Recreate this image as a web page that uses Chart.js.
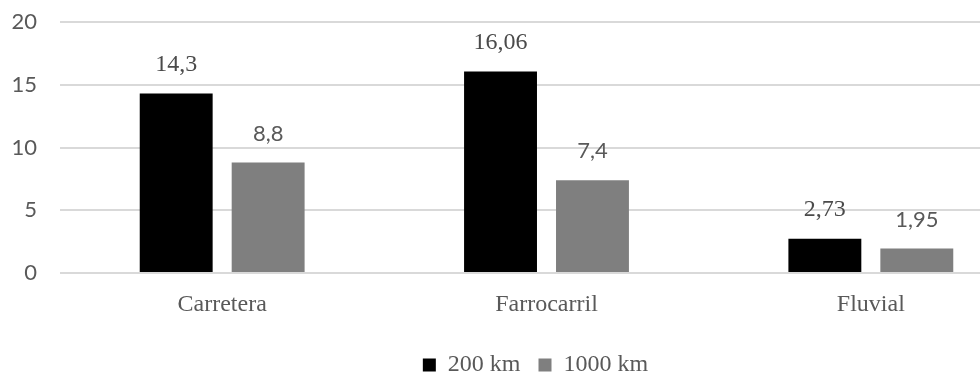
<!DOCTYPE html>
<html>
<head>
<meta charset="utf-8">
<script src="https://cdn.jsdelivr.net/npm/chart.js@4/dist/chart.umd.min.js"></script>
<style>
  html, body { margin: 0; padding: 0; background: #fff; overflow: hidden; }
  #wrap { width: 1070px; height: 374px; }
</style>
</head>
<body>
<div id="wrap"><canvas id="c" width="1070" height="374"></canvas></div>
<script>
// Modes of transport and the two distance series
const categories = ['Carretera', 'Farrocarril', 'Fluvial'];
const seriesNames = ['200 km', '1000 km'];
const values200 = [14.3, 16.06, 2.73];
const values1000 = [8.8, 7.4, 1.95];
const yTicks = [0, 5, 10, 15, 20];

const SERIF = '"Liberation Serif", "Times New Roman", serif';
const SANS = 'Lato, "Open Sans", sans-serif';
const TEXT = '#595959';

// Value labels above each bar, written with a decimal comma
const valueLabels = {
  id: 'valueLabels',
  afterDatasetsDraw(chart) {
    const ctx = chart.ctx;
    chart.data.datasets.forEach((ds, di) => {
      const meta = chart.getDatasetMeta(di);
      ctx.save();
      ctx.fillStyle = di === 0 ? '#4a4a4a' : TEXT;
      ctx.textAlign = 'center';
      ctx.textBaseline = 'middle';
      ctx.font = di === 0 ? '24px ' + SERIF : '22px ' + SANS;
      meta.data.forEach((bar, i) => {
        const txt = String(ds.data[i]).replace('.', ',');
        ctx.fillText(txt, bar.x, bar.y - 29);
      });
      ctx.restore();
    });
  }
};

// Shift the legend so it sits centred under the plotted categories
const legendShift = {
  id: 'legendShift',
  afterLayout(chart) {
    const lg = chart.legend;
    if (lg) { lg.left += 19; lg.right += 19; }
  }
};

new Chart(document.getElementById('c'), {
  type: 'bar',
  data: {
    labels: categories,
    datasets: [
      { label: seriesNames[0], data: values200, backgroundColor: '#000000' },
      { label: seriesNames[1], data: values1000, backgroundColor: '#7f7f7f' }
    ]
  },
  options: {
    responsive: false,
    animation: false,
    devicePixelRatio: 1,
    layout: { padding: { top: 22, right: 37, left: 0, bottom: -13 } },
    datasets: { bar: { categoryPercentage: 0.567, barPercentage: 0.793 } },
    scales: {
      x: {
        grid: { display: false },
        border: { display: false },
        afterFit(axis) { axis.height = 62; },
        ticks: { color: TEXT, font: { family: SERIF, size: 24 }, padding: 9 }
      },
      y: {
        min: 0,
        max: 20,
        afterBuildTicks(axis) { axis.ticks = yTicks.map(v => ({ value: v })); },
        afterFit(axis) {
          axis.width = 60;
          axis.paddingTop = 0;
          axis.paddingBottom = 0;
        },
        grid: { color: '#d9d9d9', lineWidth: 2, drawTicks: false },
        border: { display: false },
        ticks: { color: TEXT, font: { family: SANS, size: 22 }, padding: 23 }
      }
    },
    plugins: {
      legend: {
        position: 'bottom',
        labels: {
          color: TEXT,
          font: { family: SERIF, size: 24 },
          boxWidth: 13,
          boxHeight: 13,
          padding: 18
        }
      },
      tooltip: { enabled: false }
    }
  },
  plugins: [valueLabels, legendShift]
});
</script>
</body>
</html>
